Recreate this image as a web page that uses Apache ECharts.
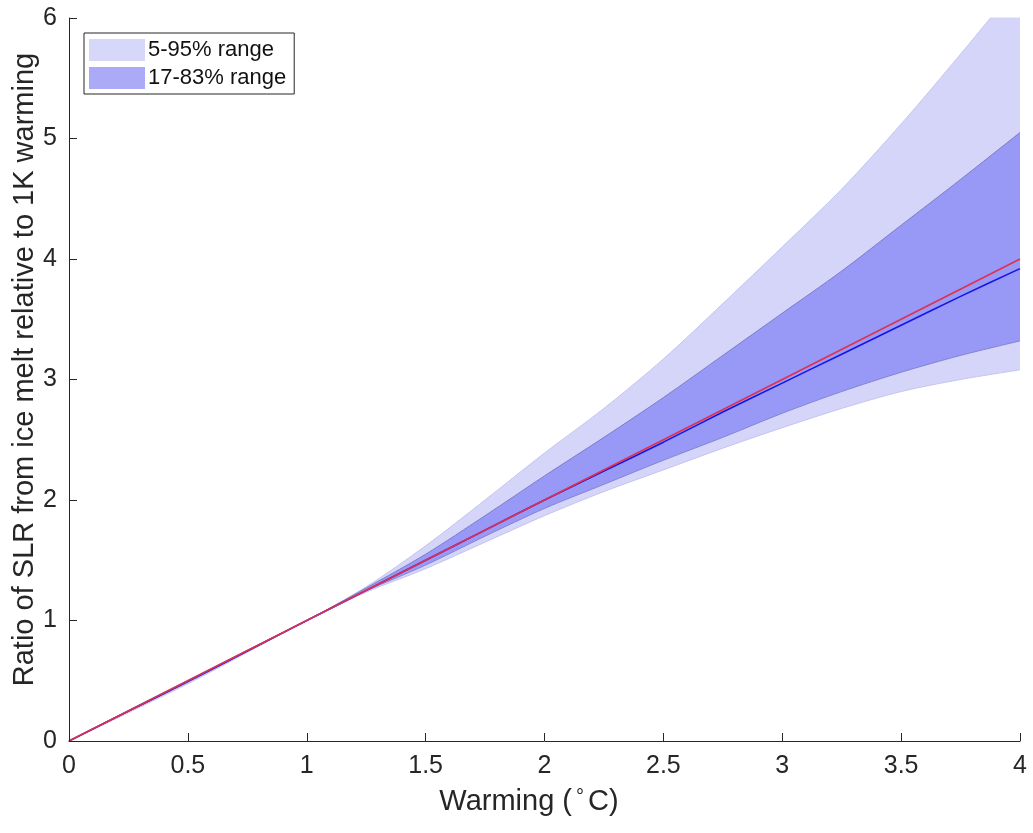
<!DOCTYPE html>
<html>
<head>
<meta charset="utf-8">
<script src="https://cdn.jsdelivr.net/npm/echarts@6/dist/echarts.min.js"></script>
<style>html,body{margin:0;padding:0;background:#fff}#c{width:1033px;height:833px}</style>
</head>
<body>
<div id="c"></div>
<script>
// Data
var warming   = [0, 0.25, 0.5, 0.75, 1, 1.25, 1.5, 1.75, 2, 2.25, 2.5, 2.75, 3, 3.25, 3.5, 3.75, 4];
var p95       = [0, 0.255, 0.505, 0.755, 1, 1.28, 1.62, 2.0, 2.39, 2.76, 3.17, 3.63, 4.10, 4.58, 5.12, 5.70, 6.30];
var p83       = [0, 0.252, 0.502, 0.752, 1, 1.27, 1.55, 1.87, 2.20, 2.52, 2.85, 3.20, 3.55, 3.90, 4.28, 4.66, 5.05];
var median    = [0, 0.248, 0.495, 0.747, 1, 1.25, 1.50, 1.75, 2.0, 2.24, 2.48, 2.73, 2.97, 3.21, 3.45, 3.69, 3.92];
var p17       = [0, 0.243, 0.487, 0.742, 1, 1.245, 1.46, 1.70, 1.93, 2.13, 2.33, 2.52, 2.72, 2.90, 3.06, 3.20, 3.32];
var p05       = [0, 0.235, 0.475, 0.735, 1, 1.235, 1.43, 1.65, 1.87, 2.07, 2.25, 2.43, 2.60, 2.76, 2.90, 3.00, 3.08];
var refX      = [0, 4];
var refY      = [0, 4];
var xTicks    = [0, 0.5, 1, 1.5, 2, 2.5, 3, 3.5, 4];
var yTicks    = [0, 1, 2, 3, 4, 5, 6];
var legendNames = ['5-95% range', '17-83% range'];

function pairs(xs, ys) { return xs.map(function (x, i) { return [x, ys[i]]; }); }

var light = '#d5d5fa', dark = '#9898f6';
var font = 'Liberation Sans, Arial, Helvetica, sans-serif';
var axisCol = '#262626';

function band(name, ys, fill, edge) {
  return {type: 'line', name: name, data: pairs(warming, ys), symbol: 'none', clip: true, smooth: 0.3,
    lineStyle: {color: edge, width: 1}, itemStyle: {color: fill},
    areaStyle: {color: fill, opacity: 1, origin: 'start'}, z: 1, silent: true};
}

var chart = echarts.init(document.getElementById('c'), null, {renderer: 'canvas'});
chart.setOption({
  animation: false,
  backgroundColor: '#fff',
  grid: {left: 69, right: 13, top: 18, bottom: 92, containLabel: false, outerBoundsMode: 'none'},
  legend: {
    orient: 'vertical', left: 84, top: 33,
    data: [
      {name: legendNames[0], itemStyle: {color: '#d7d7f9'}},
      {name: legendNames[1], itemStyle: {color: '#aaaaf6'}}
    ],
    icon: 'rect', itemWidth: 56, itemHeight: 22, itemGap: 6,
    padding: [6, 8, 5, 5], borderColor: axisCol, borderWidth: 1, backgroundColor: '#fff',
    textStyle: {fontFamily: font, fontSize: 22, color: '#111', padding: [0, 0, 0, -2]},
    selectedMode: false
  },
  xAxis: {
    type: 'value', min: 0, max: 4, interval: 0.5, z: 10,
    name: 'Warming ({d|°}C)', nameLocation: 'middle', nameGap: 46,
    nameTextStyle: {fontFamily: font, fontSize: 29, color: axisCol, padding: [0, 31, 0, 0],
      rich: {d: {fontFamily: font, fontSize: 20, color: axisCol, verticalAlign: 'top', padding: [0, 4, 0, 4]}}},
    axisLine: {show: true, onZero: false, lineStyle: {color: axisCol, width: 1}},
    axisTick: {show: true, inside: true, length: 8, lineStyle: {color: axisCol}},
    axisLabel: {fontFamily: font, fontSize: 25, color: axisCol, margin: 13,
      formatter: function (v) { return xTicks.indexOf(v) >= 0 ? String(v) : ''; }},
    splitLine: {show: false}
  },
  yAxis: {
    type: 'value', min: 0, max: 6, interval: 1, z: 10,
    name: 'Ratio of SLR from ice melt relative to 1K warming', nameLocation: 'middle', nameGap: 30,
    nameMoveOverlap: false,
    nameTextStyle: {fontFamily: font, fontSize: 29, color: axisCol, padding: [0, 0, 0, 20]},
    axisLine: {show: true, onZero: false, lineStyle: {color: axisCol, width: 1}},
    axisTick: {show: true, inside: true, length: 8, lineStyle: {color: axisCol}},
    axisLabel: {fontFamily: font, fontSize: 25, color: axisCol, margin: 12,
      formatter: function (v) { return yTicks.indexOf(v) >= 0 ? String(v) : ''; }},
    splitLine: {show: false}
  },
  series: [
    band(legendNames[0], p95, light, '#c4c4ee'),
    band(legendNames[1], p83, dark, '#7c7cc8'),
    band('inner-lower', p17, light, '#8484d0'),
    band('outer-lower', p05, '#ffffff', '#c4c4ee'),
    {type: 'line', name: 'median', data: pairs(warming, median), symbol: 'none', smooth: 0.3,
     lineStyle: {color: '#1515e8', width: 1.6}, z: 3, silent: true},
    {type: 'line', name: 'reference', data: pairs(refX, refY), symbol: 'none',
     lineStyle: {color: '#e03050', width: 1.6}, z: 4, silent: true}
  ]
});
</script>
</body>
</html>
